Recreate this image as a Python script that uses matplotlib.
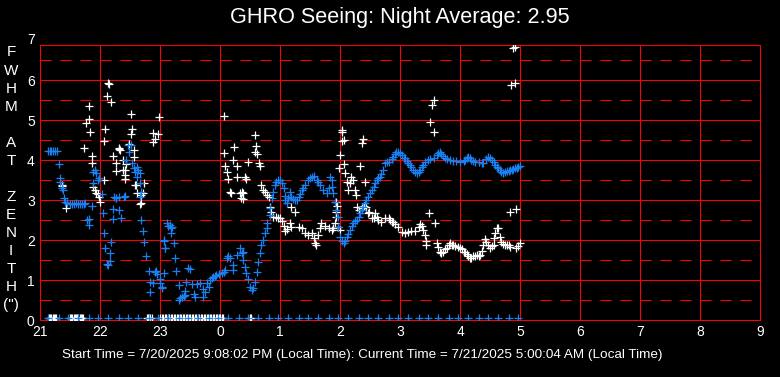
import matplotlib
matplotlib.use("Agg")
import matplotlib.pyplot as plt

plt.rcParams['lines.scale_dashes'] = False

# ---------------- data (hours after 21:00, FWHM arcsec) ----------------
hour_labels = ['21', '22', '23', '0', '1', '2', '3', '4', '5', '6', '7', '8', '9']
y_labels = ['0', '1', '2', '3', '4', '5', '6', '7']

title_text = "GHRO Seeing: Night Average: 2.95"
footer_text = ("Start Time = 7/20/2025 9:08:02 PM (Local Time): "
               "Current Time = 7/21/2025 5:00:04 AM (Local Time)")

blue_t = [0.13, 0.16, 0.19, 0.22, 0.25, 0.28, 0.32, 0.33, 0.34, 0.36, 0.38, 0.40, 0.42, 0.45,
          0.50, 0.53, 0.56, 0.60, 0.63, 0.66, 0.70, 0.73, 0.75, 0.78, 0.82, 0.81, 0.86, 0.88,
          0.89, 0.92, 0.93, 0.97, 0.99, 1.04, 1.05, 1.07, 1.09, 1.11, 1.14, 1.16, 1.17, 1.19,
          1.21, 1.22, 1.23, 1.27, 1.27, 1.31, 1.32, 1.35, 1.40, 1.42, 1.44, 1.47, 1.49, 1.51,
          1.53, 1.56, 1.58, 1.61, 1.62, 1.64, 1.66, 1.67, 1.67, 1.68, 1.69, 1.71, 1.73, 1.77,
          1.81, 1.83, 1.83, 1.89, 1.92, 1.93, 1.95, 2.00, 2.00, 2.03, 2.03, 2.06, 2.07, 2.07,
          2.08, 2.08, 2.11, 2.13, 2.17, 2.19, 2.18, 2.20, 2.24, 2.25, 2.27, 2.31, 2.32, 2.34,
          2.37, 2.40, 2.42, 2.42, 2.44, 2.47, 2.50, 2.53, 2.56, 2.58, 2.61, 2.67, 2.72, 2.75,
          2.72, 2.78, 2.81, 2.83, 2.86, 2.89, 2.92, 2.94, 2.98, 3.03, 3.06, 3.08, 3.11, 3.14,
          3.17, 3.22, 3.22, 3.28, 3.33, 3.36, 3.39, 3.39, 3.42, 3.44, 3.46, 3.50, 3.53, 3.55,
          3.58, 3.61, 3.64, 3.67, 3.69, 3.72, 3.75, 3.78, 3.79, 3.83, 3.83, 3.86, 3.89, 3.92,
          3.94, 3.97, 4.00, 4.03, 4.06, 4.08, 4.08, 4.11, 4.14, 4.17, 4.19, 4.22, 4.25, 4.28,
          4.31, 4.33, 4.36, 4.39, 4.42, 4.47, 4.50, 4.53, 4.57, 4.61, 4.64, 4.67, 4.72, 4.78,
          4.81, 4.83, 4.86, 4.86, 4.89, 4.92, 4.93, 4.96, 4.97, 5.00, 5.03, 5.06, 5.08, 5.11,
          5.14, 5.17, 5.20, 5.22, 5.25, 5.28, 5.31, 5.33, 5.36, 5.39, 5.42, 5.44, 5.47, 5.50,
          5.53, 5.56, 5.58, 5.61, 5.64, 5.67, 5.69, 5.72, 5.75, 5.78, 5.81, 5.86, 5.89, 5.92,
          5.94, 5.97, 6.00, 6.03, 6.06, 6.08, 6.11, 6.14, 6.17, 6.19, 6.22, 6.25, 6.29, 6.31,
          6.33, 6.36, 6.39, 6.42, 6.47, 6.50, 6.56, 6.61, 6.64, 6.67, 6.69, 6.72, 6.75, 6.78,
          6.83, 6.89, 6.94, 7.00, 7.06, 7.08, 7.11, 7.14, 7.17, 7.19, 7.22, 7.25, 7.31, 7.36,
          7.39, 7.44, 7.47, 7.50, 7.53, 7.56, 7.58, 7.61, 7.64, 7.67, 7.69, 7.72, 7.75, 7.78,
          7.81, 7.83, 7.86, 7.89, 7.92, 7.95, 7.97, 8.00]
blue_fwhm = [4.22, 4.22, 4.22, 4.22, 4.22, 4.22, 3.89, 3.56, 3.45, 3.30, 3.25, 3.04, 2.96, 2.92,
             2.90, 2.90, 2.90, 2.92, 2.90, 2.90, 2.90, 2.90, 2.92, 2.50, 2.52, 2.37, 2.85, 3.42,
             3.71, 3.75, 3.68, 3.50, 3.54, 3.15, 2.68, 2.18, 1.79, 1.40, 1.37, 1.48, 1.67, 1.96,
             2.52, 2.77, 3.07, 3.04, 3.06, 3.07, 2.75, 2.54, 3.08, 3.10, 4.00, 4.37, 4.21, 4.37,
             3.92, 3.79, 3.71, 3.58, 3.83, 3.75, 3.43, 3.67, 3.08, 2.50, 3.21, 2.23, 1.96, 1.60,
             1.23, 0.96, 0.71, 0.92, 1.21, 1.23, 1.15, 1.02, 0.92, 0.79, 0.83, 1.17, 1.98, 2.00,
             1.80, 1.79, 2.42, 2.35, 2.37, 2.29, 2.18, 2.33, 1.92, 1.54, 1.23, 0.88, 0.50, 0.54,
             0.57, 0.60, 0.62, 0.73, 0.94, 1.29, 1.27, 0.89, 0.65, 0.58, 0.89, 0.92, 0.77, 0.71,
             0.58, 0.92, 0.83, 1.00, 1.04, 1.08, 1.10, 1.12, 1.15, 1.18, 1.20, 1.25, 1.54, 1.60,
             1.55, 1.37, 1.25, 1.62, 1.79, 1.67, 1.71, 1.50, 1.33, 1.17, 1.02, 0.83, 0.75, 0.80,
             0.96, 1.21, 1.46, 1.67, 1.88, 2.00, 2.17, 2.29, 2.42, 2.62, 2.79, 3.04, 3.21, 3.38,
             3.46, 3.50, 3.50, 3.42, 3.29, 3.10, 3.00, 2.92, 3.05, 3.21, 3.08, 3.02, 3.00, 3.00,
             3.08, 3.15, 3.25, 3.30, 3.38, 3.50, 3.55, 3.58, 3.60, 3.50, 3.45, 3.38, 3.25, 3.17,
             3.30, 3.58, 3.50, 3.33, 3.17, 2.96, 2.75, 2.58, 2.33, 2.08, 1.98, 1.92, 1.98, 2.08,
             2.15, 2.25, 2.35, 2.42, 2.47, 2.50, 2.58, 2.67, 2.75, 2.83, 2.92, 3.00, 3.08, 3.17,
             3.25, 3.33, 3.42, 3.50, 3.55, 3.58, 3.65, 3.75, 3.92, 3.95, 3.96, 4.02, 4.08, 4.15,
             4.21, 4.20, 4.17, 4.12, 4.06, 4.04, 3.98, 3.93, 3.88, 3.82, 3.75, 3.70, 3.67, 3.70,
             3.75, 3.82, 3.88, 3.94, 4.00, 4.02, 4.04, 4.12, 4.17, 4.21, 4.15, 4.10, 4.05, 4.02,
             4.00, 3.98, 3.98, 3.96, 3.98, 4.00, 4.05, 4.07, 4.04, 4.00, 3.97, 3.96, 3.94, 3.93,
             3.93, 4.02, 4.08, 4.04, 4.00, 3.94, 3.88, 3.83, 3.79, 3.74, 3.70, 3.68, 3.71, 3.72,
             3.73, 3.75, 3.76, 3.78, 3.79, 3.81, 3.83, 3.85]

white_t = [0.36, 0.37, 0.43, 0.74, 0.77, 0.81, 0.82, 0.84, 0.86, 0.87, 0.89, 0.92, 0.94, 0.97,
           0.99, 1.00, 1.06, 1.07, 1.09, 1.11, 1.14, 1.15, 1.18, 1.22, 1.27, 1.27, 1.31, 1.32,
           1.33, 1.38, 1.38, 1.41, 1.42, 1.42, 1.43, 1.48, 1.51, 1.52, 1.54, 1.56, 1.57, 1.58,
           1.60, 1.61, 1.66, 1.68, 1.69, 1.72, 1.74, 1.88, 1.89, 1.92, 1.97, 1.99,
           3.06, 3.07, 3.08, 3.11, 3.13, 3.17, 3.19, 3.22, 3.24, 3.28, 3.29, 3.33, 3.35, 3.36,
           3.39, 3.39, 3.42, 3.44, 3.46, 3.58, 3.58, 3.60, 3.62, 3.65, 3.67, 3.69, 3.72, 3.75,
           3.78, 3.81, 3.83, 3.85, 3.89, 3.94, 3.97, 4.00, 4.03, 4.06, 4.08, 4.12, 4.17, 4.18,
           4.19, 4.25, 4.31, 4.36, 4.42, 4.47, 4.53, 4.56, 4.58, 4.60, 4.64, 4.67, 4.69, 4.75,
           4.81, 4.86, 4.89, 4.92, 4.94, 4.94, 4.95, 4.94, 4.97, 5.00, 5.00, 4.99, 5.03, 5.04,
           5.03, 5.06, 5.07, 5.08, 5.11, 5.14, 5.17, 5.19, 5.22, 5.25, 5.27, 5.28, 5.31, 5.33,
           5.36, 5.39, 5.42, 5.36, 5.40, 5.44, 5.47, 5.49, 5.53, 5.56, 5.58, 5.61, 5.64, 5.69,
           5.75, 5.81, 5.83, 5.86, 5.89, 5.92, 5.97, 6.03, 6.08, 6.14, 6.19, 6.25, 6.31, 6.33,
           6.36, 6.39, 6.42, 6.44, 6.44, 6.49, 6.50, 6.53, 6.56, 6.57, 6.58, 6.61, 6.64, 6.67,
           6.69, 6.72, 6.75, 6.78, 6.81, 6.83, 6.86, 6.89, 6.92, 6.97, 7.00, 7.03, 7.06, 7.08,
           7.11, 7.14, 7.17, 7.19, 7.22, 7.25, 7.28, 7.31, 7.33, 7.36, 7.39, 7.42, 7.44, 7.47,
           7.50, 7.53, 7.56, 7.57, 7.58, 7.61, 7.64, 7.67, 7.69, 7.72, 7.75, 7.78, 7.81, 7.83,
           7.83, 7.85, 7.89, 7.91, 7.92, 7.93, 7.94, 7.97, 8.00]
white_fwhm = [3.35, 3.38, 2.79, 4.29, 4.92, 5.35, 5.02, 4.69, 4.10, 3.92, 3.33, 3.25, 3.17, 3.15,
              3.08, 2.96, 3.50, 4.47, 4.77, 5.60, 5.92, 5.90, 5.44, 4.10, 3.92, 3.72, 4.27, 4.30,
              4.25, 4.00, 3.75, 3.52, 3.75, 3.62, 3.89, 4.40, 5.14, 4.64, 4.77, 4.25, 4.07, 3.38,
              3.38, 3.18, 2.90, 2.92, 3.12, 3.17, 3.42, 4.67, 4.44, 4.52, 4.65, 5.07,
              5.10, 4.17, 3.86, 3.71, 3.52, 3.21, 3.17, 4.00, 4.32, 3.85, 3.57, 3.17, 3.04, 3.21,
              3.17, 3.02, 3.57, 3.52, 3.94, 4.62, 4.21, 4.35, 4.15, 3.93, 3.86, 3.38, 3.25, 3.21,
              3.12, 3.08, 2.82, 2.71, 2.58, 2.58, 2.54, 2.54, 2.48, 2.35, 2.23, 2.27, 2.42, 2.33,
              2.83, 2.71, 2.33, 2.29, 2.17, 2.12, 2.17, 2.04, 1.92, 1.88, 2.12, 2.29, 2.42, 2.35,
              2.29, 2.25, 2.29, 2.42, 2.58, 2.71, 2.85, 2.96, 2.33, 2.25, 4.12, 3.79, 4.75, 4.69,
              4.48, 4.50, 3.89, 3.67, 3.46, 3.25, 3.42, 3.58, 3.50, 3.25, 3.12, 2.82, 2.75, 3.85,
              4.43, 4.52, 3.44, 2.80, 2.84, 2.83, 2.67, 2.71, 2.54, 2.54, 2.67, 2.58, 2.50, 2.46,
              2.56, 2.54, 2.50, 2.44, 2.46, 2.40, 2.33, 2.21, 2.17, 2.21, 2.23, 2.23, 2.33, 2.41,
              2.35, 2.25, 2.12, 1.98, 1.88, 2.68, 4.94, 5.38, 5.50, 4.69, 2.42, 1.92, 1.83, 1.71,
              1.67, 1.70, 1.77, 1.80, 1.88, 1.92, 1.88, 1.88, 1.85, 1.82, 1.79, 1.77, 1.71, 1.69,
              1.66, 1.60, 1.56, 1.54, 1.60, 1.60, 1.63, 1.60, 1.62, 1.73, 1.88, 2.03, 1.96, 1.88,
              1.81, 1.86, 1.88, 2.04, 2.18, 2.31, 2.30, 2.08, 1.96, 1.90, 1.88, 1.88, 1.88, 1.83,
              2.71, 5.88, 6.79, 6.83, 5.93, 2.77, 1.79, 1.86, 1.92]

# samples plotted on the floor (no measurement)
floor_fwhm = 0.06
white_floor_t = [0.15, 0.17, 0.19, 0.21, 0.23, 0.25, 0.27,
                 0.50, 0.52, 0.54, 0.56, 0.58, 0.60, 0.62, 0.64, 0.66, 0.68, 0.70, 0.72,
                 1.78, 1.80, 1.82, 1.84, 1.86,
                 2.000, 2.025, 2.050, 2.075, 2.100, 2.125, 2.150, 2.175, 2.200, 2.225, 2.250,
                 2.275, 2.300, 2.325, 2.350, 2.375, 2.400, 2.425, 2.450, 2.475, 2.500, 2.525,
                 2.550, 2.575, 2.600, 2.625, 2.650, 2.675, 2.700, 2.725, 2.750, 2.775, 2.800,
                 2.825, 2.850, 2.875, 2.900, 2.925, 2.950, 2.975, 3.000, 3.025, 3.050,
                 3.50, 3.52]
blue_floor_t = [0.14, 0.31, 0.47, 0.64, 0.81, 0.97, 1.14, 1.31, 1.47, 1.64, 1.81, 1.97,
                2.14, 2.31, 2.47, 2.64, 2.81, 2.97, 3.14, 3.31, 3.47, 3.64, 3.81, 3.97,
                4.14, 4.31, 4.47, 4.64, 4.81, 4.97, 5.14, 5.31, 5.47, 5.64, 5.81, 5.97,
                6.14, 6.31, 6.47, 6.64, 6.81, 6.97, 7.14, 7.31, 7.47, 7.64, 7.81, 7.97]

# ---------------- drawing ----------------
W, H = 780, 377
fig = plt.figure(figsize=(W / 100, H / 100), dpi=100, facecolor='black')
ax = fig.add_axes([40 / W, 57 / H, 720 / W, 275 / H], facecolor='black')

RED = '#ff0000'
BLUE = '#1a80f2'
lw = 0.75
for i in range(1, len(hour_labels) - 1):
    ax.axvline(i, color=RED, lw=lw, zorder=1)
for v in range(1, 7):
    ax.axhline(v, color=RED, lw=lw, zorder=1)
for v in [0.5, 1.5, 2.5, 3.5, 4.5, 5.5, 6.5]:
    ax.axhline(v, color=RED, lw=lw, dashes=(7.9, 6.5), zorder=1)

for s in ax.spines.values():
    s.set_color(RED)
    s.set_linewidth(lw)

mk = dict(ls='none', marker='+', ms=5.3, mew=0.9, zorder=3, clip_on=True)
ax.plot(white_floor_t, [floor_fwhm] * len(white_floor_t), color='white', **mk)
ax.plot(white_t, white_fwhm, color='white', **mk)
ax.plot(blue_t, blue_fwhm, color=BLUE, **mk)
ax.plot(blue_floor_t, [floor_fwhm] * len(blue_floor_t), color=BLUE, **mk)

ax.set_xlim(0, len(hour_labels) - 1)
ax.set_ylim(0, 6.875)
ax.set_xticks(range(len(hour_labels)))
ax.set_xticklabels(hour_labels)
ax.set_yticks(range(len(y_labels) - 1))
ax.set_yticklabels(y_labels[:-1])
ax.tick_params(length=0, colors='white', labelsize=10, pad=3.8)
for lab in ax.get_xticklabels() + ax.get_yticklabels():
    lab.set_fontfamily('Liberation Sans')
ax.text(-5 / 720, 7, y_labels[-1], transform=ax.get_yaxis_transform(),
        ha='right', va='center', color='white', fontsize=10,
        family='Liberation Sans', clip_on=False)

fig.text(400 / W, 1 - 17 / H, title_text, ha='center', va='center',
         color='white', fontsize=15.6, family='Liberation Sans')
fig.text(362 / W, 1 - 355 / H, footer_text, ha='center', va='center',
         color='white', fontsize=9.7, family=['Liberation Sans Narrow', 'Liberation Sans'])

# vertical axis title, one letter per line
ylab = ['F', 'W', 'H', 'M', '', 'A', 'T', '', 'Z', 'E', 'N', 'I', 'T', 'H', '(")']
for i, ch in enumerate(ylab):
    if ch:
        fig.text(11 / W, 1 - (52.5 + 18.05 * i) / H, ch, ha='center', va='center',
                 color='white', fontsize=11, family='Liberation Sans')

fig.savefig('out.png', dpi=100, facecolor='black')
